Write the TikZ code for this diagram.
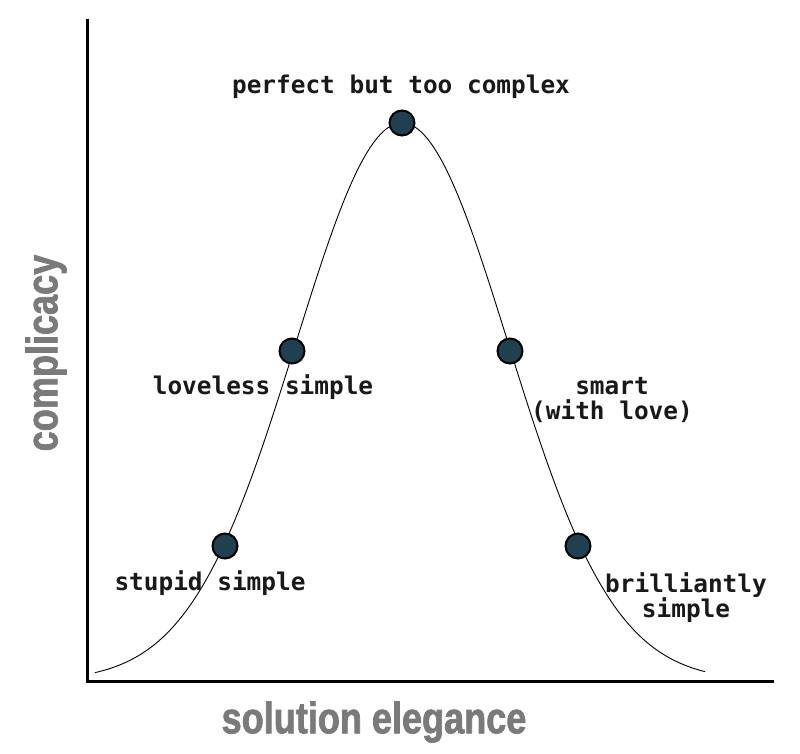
\documentclass[tikz,border=0pt]{standalone}
\usepackage{fontspec}
\setmonofont{DejaVu Sans Mono}
\newfontfamily\axisfont[FakeStretch=0.82,FakeBold=1.6]{Liberation Sans}
\definecolor{dotfill}{HTML}{1E4050}
\definecolor{axisgray}{HTML}{7A7A7A}
\tikzset{
  pt/.style={circle, draw=black, line width=2pt, fill=dotfill, minimum size=25pt, inner sep=0pt},
  lbl/.style={font=\ttfamily\bfseries\fontsize{24.4}{25}\selectfont, text=black!90, align=center, inner sep=0pt},
  axlbl/.style={font=\axisfont\bfseries\fontsize{44}{44}\selectfont, text=axisgray, inner sep=0pt},
  axisline/.style={line width=3pt, line cap=rect}
}
\begin{document}
\begin{tikzpicture}[x=1pt,y=-1pt]
\useasboundingbox (0,0) rectangle (800,753);
\fill[white] (0,0) rectangle (800,753);
% axes
\coordinate (top) at (87,20);
\coordinate (origin) at (87,681);
\coordinate (right) at (772,681);
\draw[axisline] (top) -- (origin) -- (right);
% curve
\draw[line width=0.9pt, domain=95:705, samples=150, smooth]
  plot (\x, {681 - 558*exp(-0.5*((\x-402)/106)^2)});
% dots
\node[pt] (peak) at (402,123) {};
\node[pt] (ll) at (292,351) {};
\node[pt] (sm) at (510,351) {};
\node[pt] (st) at (225,546) {};
\node[pt] (br) at (578,546) {};
% labels
\node[lbl] (lpeak) at (401,87) {perfect but too complex};
\node[lbl] (lll) at (263,387) {loveless simple};
\node[lbl] (lsm) at (612,400) {smart\\(with love)};
\node[lbl] (lst) at (210,583) {stupid simple};
\node[lbl] (lbr) at (686,598) {brilliantly\\simple};
% axis labels
\node[axlbl] (xlab) at (374,722) {solution elegance};
\node[axlbl, rotate=90] (ylab) at (46,353) {complicacy};
\end{tikzpicture}
\end{document}
